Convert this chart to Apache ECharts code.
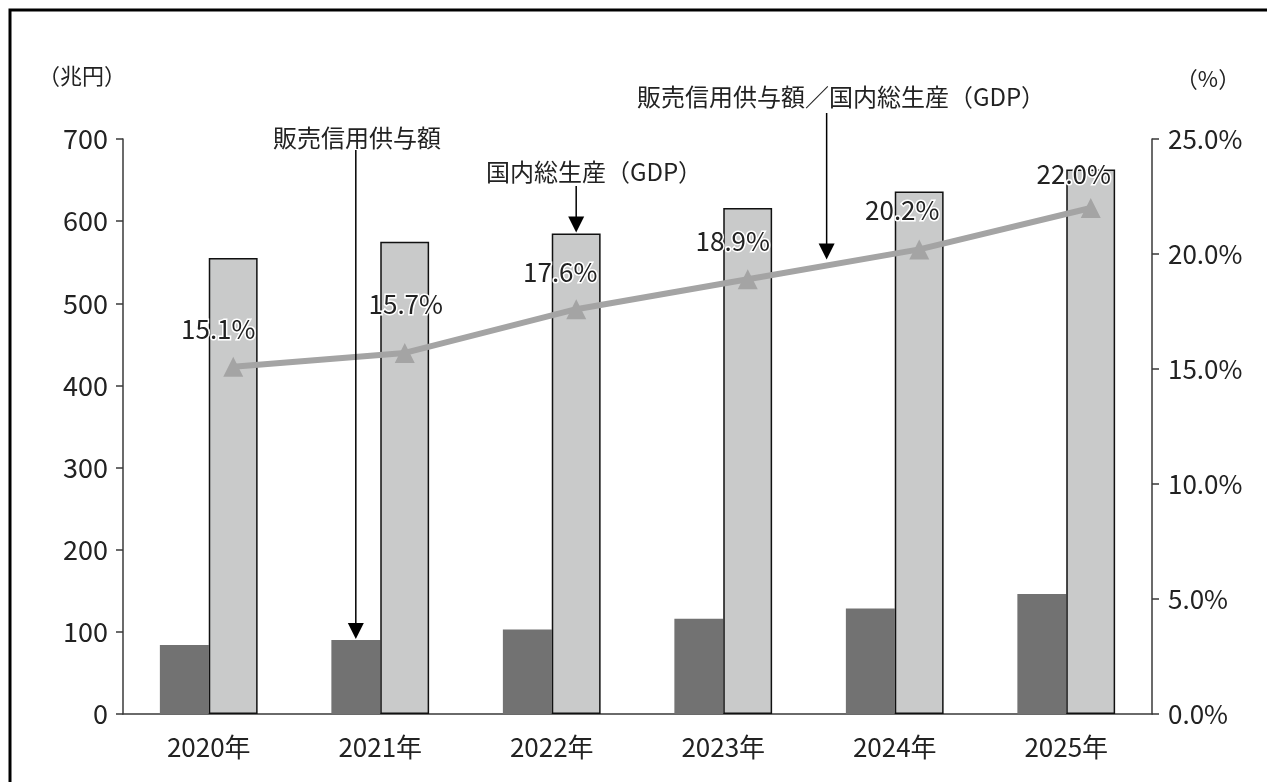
<!DOCTYPE html>
<html>
<head>
<meta charset="utf-8">
<script src="https://cdn.jsdelivr.net/npm/echarts@6/dist/echarts.min.js"></script>
<style>
html,body{margin:0;padding:0;background:#fff;}
#chart{width:1267px;height:782px;}
</style>
</head>
<body>
<div id="chart"></div>
<script>
// ---- data ----
const categories = ['2020年', '2021年', '2022年', '2023年', '2024年', '2025年'];
const creditValues = [84, 90, 103, 116, 128.5, 146];       // 販売信用供与額 (兆円)
const gdpValues = [555, 575, 585, 616, 636, 663];          // 国内総生産 (兆円)
const ratioValues = [15.1, 15.7, 17.6, 18.9, 20.2, 22.0];  // 比率 (%)
const leftTicks = [0, 700, 100];   // min, max, interval
const rightTicks = [0, 25, 5];

// ---- layout constants ----
const FONT = '"Noto Sans CJK JP", "Noto Sans", sans-serif';
const TXT = '#222';
const AX = '#3a3a3a';
const GRID = {left: 123, right: 115, top: 139, bottom: 68};
const LINE_SHIFT = 24.5; // line points sit on the GDP bar centres
const labelOffsets = [[-15, -38], [1, -49], [-16, -37], [-15, -38], [-17, -39], [-17, -34]];

const chart = echarts.init(document.getElementById('chart'), null, {renderer: 'canvas'});

const ratioData = ratioValues.map((v, i) => ({
  value: v,
  label: {offset: labelOffsets[i]}
}));

const option = {
  animation: false,
  backgroundColor: '#fff',
  textStyle: {fontFamily: FONT},
  grid: [
    {left: GRID.left, right: GRID.right, top: GRID.top, bottom: GRID.bottom},
    {left: GRID.left + LINE_SHIFT, right: GRID.right - LINE_SHIFT, top: GRID.top, bottom: GRID.bottom}
  ],
  xAxis: [
    {
      type: 'category', gridIndex: 0, data: categories,
      axisLine: {lineStyle: {color: AX, width: 1.5}},
      axisTick: {length: 8, lineStyle: {color: AX, width: 1.5}},
      axisLabel: {color: TXT, fontSize: 26, fontFamily: FONT, margin: 20}
    },
    {
      type: 'category', gridIndex: 1, data: categories, show: false
    }
  ],
  yAxis: [
    {
      type: 'value', gridIndex: 0, position: 'left',
      min: leftTicks[0], max: leftTicks[1], interval: leftTicks[2],
      axisLine: {show: true, lineStyle: {color: AX, width: 1.5}},
      axisTick: {show: true, length: 7, lineStyle: {color: AX, width: 1.5}},
      axisLabel: {color: TXT, fontSize: 27, fontFamily: FONT, margin: 15},
      splitLine: {show: false}
    },
    {
      type: 'value', gridIndex: 0, position: 'right',
      min: rightTicks[0], max: rightTicks[1], interval: rightTicks[2],
      axisLine: {show: true, lineStyle: {color: AX, width: 1.5}},
      axisTick: {show: true, length: 7, lineStyle: {color: AX, width: 1.5}},
      axisLabel: {color: TXT, fontSize: 26, fontFamily: FONT, margin: 16,
        formatter: v => v.toFixed(1) + '%'},
      splitLine: {show: false}
    },
    {
      type: 'value', gridIndex: 1, show: false,
      min: rightTicks[0], max: rightTicks[1], interval: rightTicks[2]
    }
  ],
  series: [
    {
      name: '販売信用供与額', type: 'bar', xAxisIndex: 0, yAxisIndex: 0,
      data: creditValues, barGap: '0%', barCategoryGap: '43%',
      itemStyle: {color: '#727272', borderColor: '#8a8a8a', borderWidth: 0}
    },
    {
      name: '国内総生産（GDP）', type: 'bar', xAxisIndex: 0, yAxisIndex: 0,
      data: gdpValues, barGap: '0%', barCategoryGap: '43%',
      itemStyle: {color: '#c9caca', borderColor: '#111', borderWidth: 1.5}
    },
    {
      name: '販売信用供与額／国内総生産（GDP）', type: 'line', xAxisIndex: 1, yAxisIndex: 2,
      data: ratioData, z: 5,
      lineStyle: {color: '#a4a4a4', width: 6},
      itemStyle: {color: '#a4a4a4'},
      symbol: 'triangle', symbolSize: 20, showAllSymbol: true,
      label: {
        show: true, position: 'inside',
        formatter: p => p.value.toFixed(1) + '%',
        color: TXT, fontSize: 26, fontFamily: FONT,
        textBorderColor: '#fff', textBorderWidth: 3
      }
    }
  ]
};
chart.setOption(option);

// ---- annotations (arrows computed from data positions) ----
function barTop(seriesIndex, idx) {
  let x, y;
  try {
    const lay = chart.getModel().getSeriesByIndex(seriesIndex).getData().getItemLayout(idx);
    x = lay.x + lay.width / 2;
    y = Math.min(lay.y, lay.y + lay.height);
  } catch (e) {
    const vals = seriesIndex === 0 ? creditValues : gdpValues;
    const p = chart.convertToPixel({xAxisIndex: 0, yAxisIndex: 0}, [idx, vals[idx]]);
    x = p[0] + (seriesIndex === 0 ? -LINE_SHIFT : LINE_SHIFT);
    y = p[1];
  }
  return [x, y];
}
function arrow(x, y0, tipY) {
  const head = 16, hw = 8;
  return [
    {type: 'line', shape: {x1: x, y1: y0, x2: x, y2: tipY - head + 1},
      style: {stroke: '#000', lineWidth: 1.5}, z: 20},
    {type: 'polygon', shape: {points: [[x - hw, tipY - head], [x + hw, tipY - head], [x, tipY]]},
      style: {fill: '#000'}, z: 20}
  ];
}
function text(str, x, y, size) {
  return {type: 'text', x: x, y: y, z: 20,
    style: {text: str, fill: TXT, font: size + 'px ' + FONT, textAlign: 'center', textVerticalAlign: 'middle'}};
}

const a1 = barTop(0, 1);
const a2 = barTop(1, 2);
const p3 = chart.convertToPixel({xAxisIndex: 1, yAxisIndex: 2}, [3, ratioValues[3]]);
const p4 = chart.convertToPixel({xAxisIndex: 1, yAxisIndex: 2}, [4, ratioValues[4]]);
const t = 0.46;
const a3 = [p3[0] + (p4[0] - p3[0]) * t, p3[1] + (p4[1] - p3[1]) * t - 6];

const graphics = [
  {type: 'rect', shape: {x: 10, y: 10, width: 1300, height: 800},
    style: {fill: 'none', stroke: '#000', lineWidth: 3}, z: 30},
  text('（兆円）', 82, 76, 22),
  text('（%）', 1208, 79, 22),
  text('販売信用供与額', 357, 138, 24),
  text('国内総生産（GDP）', 594, 172, 24),
  text('販売信用供与額／国内総生産（GDP）', 841, 97, 24)
].concat(arrow(a1[0], 150, a1[1] - 1))
 .concat(arrow(a2[0], 186, a2[1] - 1))
 .concat(arrow(a3[0], 113, a3[1]));

chart.setOption({graphic: graphics});
</script>
</body>
</html>
